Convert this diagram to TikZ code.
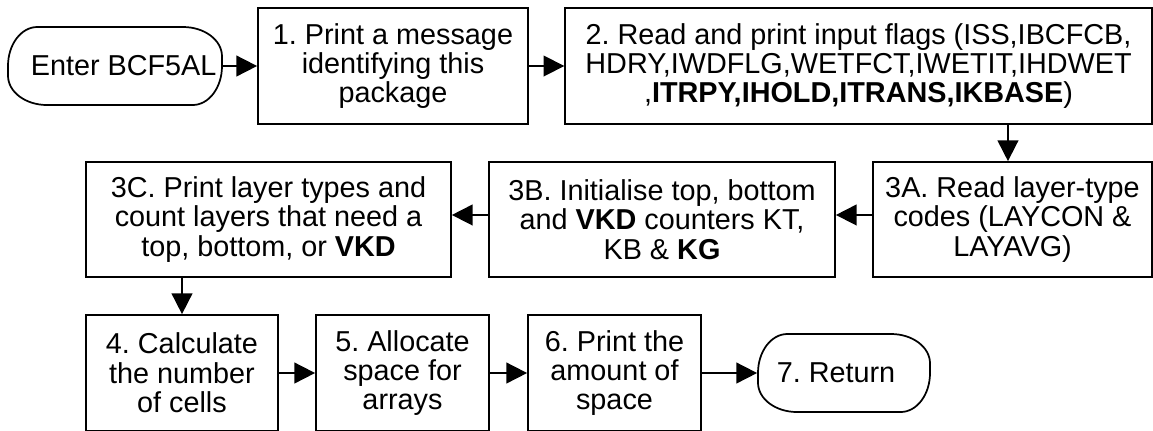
\documentclass[tikz,border=0pt]{standalone}
\usepackage{fontspec}
\setmainfont{Liberation Sans}
\usetikzlibrary{arrows.meta}
\begin{document}
\begin{tikzpicture}[x=0.75pt,y=-0.75pt,
  every node/.style={font=\fontsize{21.6pt}{22pt}\selectfont\frenchspacing, align=center, inner sep=0pt},
  stepbox/.style={draw, line width=1.3pt, rectangle},
  terminal/.style={draw, line width=1.3pt, rectangle,
    ovalends/.code={\pgfsetcornersarced{\pgfpoint{22pt}{29.2pt}}}, ovalends},
  flow/.style={line width=1.3pt, -{Triangle[length=15.5pt,width=15.5pt]}}]
\useasboundingbox (0,0) rectangle (1153,430);

% first row
\node[terminal, minimum width=160.5pt, minimum height=58.5pt] (enter) at (115,66) {\hspace*{13pt}Enter BCF5AL};
\node[stepbox, minimum width=202.5pt, minimum height=87pt] (s1) at (393,66)
  {1. Print a message\\identifying this\\package};
\node[stepbox, minimum width=440pt, minimum height=87pt] (s2) at (858.5,66)
  {2. Read and print input flags (ISS,IBCFCB,\\HDRY,IWDFLG,WETFCT,IWETIT,IHDWET\\,\textbf{ITRPY,IHOLD,ITRANS,IKBASE})};

% second row
\node[stepbox, minimum width=209pt, minimum height=86.25pt] (s3a) at (1012.5,219.5)
  {3A. Read layer-type\\codes (LAYCON \&\\LAYAVG)};
\node[stepbox, minimum width=259.5pt, minimum height=86.25pt] (s3b) at (662,219.5)
  {3B. Initialise top, bottom\\and \textbf{VKD} counters KT,\\KB \& \textbf{KG}};
\node[stepbox, minimum width=273.75pt, minimum height=86.25pt] (s3c) at (268.5,219.5)
  {3C. Print layer types and\\count layers that need a\\top, bottom, or \textbf{VKD}};

% third row
\node[stepbox, minimum width=144pt, minimum height=87pt] (s4) at (182,373)
  {4. Calculate\\the number\\of cells};
\node[stepbox, minimum width=129.75pt, minimum height=87pt] (s5) at (402.5,373)
  {5. Allocate\\space for\\arrays};
\node[stepbox, minimum width=129.75pt, minimum height=87pt] (s6) at (614.5,373)
  {6. Print the\\amount of\\space};
\node[terminal, minimum width=129pt, minimum height=58.5pt] (ret) at (844,373) {7. Return\hspace*{12pt}};

% connectors
\draw[flow] (enter) -- (s1);
\draw[flow] (s1) -- (s2);
\draw[flow] ([xshift=-3.4pt]s3a.north |- s2.south) -- ([xshift=-3.4pt]s3a.north);
\draw[flow] ([yshift=3.4pt]s3a.west) -- ([yshift=3.4pt]s3b.east);
\draw[flow] ([yshift=3.4pt]s3b.west) -- ([yshift=3.4pt]s3c.east);
\draw[flow] (s4.north |- s3c.south) -- (s4.north);
\draw[flow] (s4) -- (s5);
\draw[flow] (s5) -- (s6);
\draw[flow] (s6) -- (ret);
\end{tikzpicture}
\end{document}
